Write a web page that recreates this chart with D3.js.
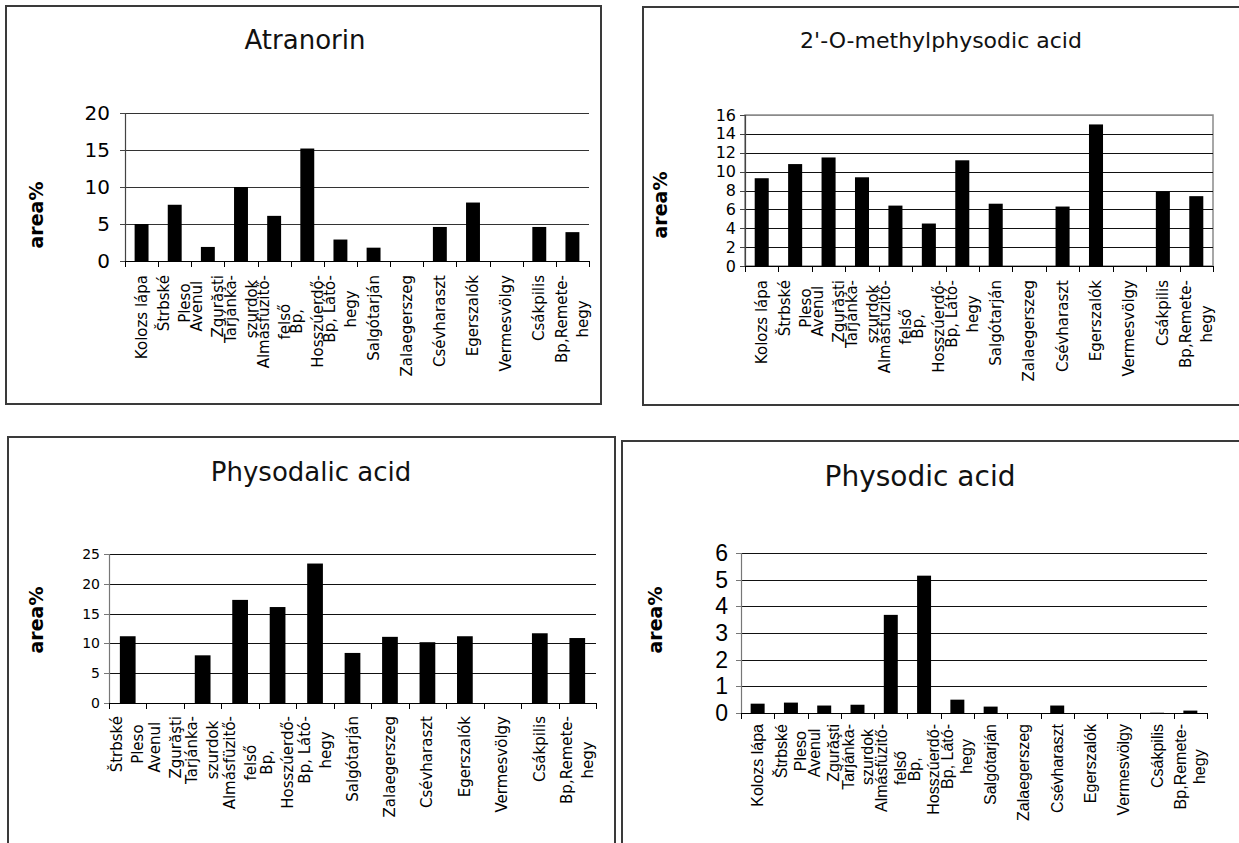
<!DOCTYPE html>
<html>
<head>
<meta charset="utf-8">
<script src="https://cdn.jsdelivr.net/npm/d3@7"></script>
<style>
  html, body { margin: 0; padding: 0; background: #fff; }
  svg { display: block; }
</style>
</head>
<body>
<svg id="chart" width="1239" height="843"></svg>
<script>
// Sampling sites (line breaks follow the wrapped axis labels)
const sites = ["Kolozs lápa", "Štrbské\nPleso", "Avenul\nZgurăşti", "Tarjánka-\nszurdok",
  "Almásfüzitő-\nfelső", "Bp,\nHosszúerdő-", "Bp, Látó-\nhegy", "Salgótarján",
  "Zalaegerszeg", "Csévharaszt", "Egerszalók", "Vermesvölgy", "Csákpilis", "Bp,Remete-\nhegy"];
const sitesPhysodalic = ["Štrbské\nPleso", "Avenul\nZgurăşti", "Tarjánka-\nszurdok",
  "Almásfüzitő-\nfelső", "Bp,\nHosszúerdő-", "Bp, Látó-\nhegy", "Salgótarján",
  "Zalaegerszeg", "Csévharaszt", "Egerszalók", "Vermesvölgy", "Csákpilis", "Bp,Remete-\nhegy"];

// area% of each compound per site
const atranorin      = [5.0, 7.6, 1.9, 10.0, 6.1, 15.2, 2.9, 1.8, 0, 4.6, 7.9, 0, 4.6, 3.9];
const methylphysodic = [9.3, 10.8, 11.5, 9.4, 6.4, 4.5, 11.2, 6.6, 0, 6.3, 15.0, 0, 7.9, 7.4];
const physodalic     = [11.2, 0, 8.0, 17.3, 16.1, 23.4, 8.4, 11.1, 10.2, 11.2, 0, 11.7, 10.9];
const physodic       = [0.35, 0.39, 0.28, 0.31, 3.68, 5.15, 0.5, 0.24, 0, 0.28, 0, 0, 0.01, 0.09];

// y-axis tick values
const ticksAtranorin = [0, 5, 10, 15, 20];
const ticksMethyl = [0, 2, 4, 6, 8, 10, 12, 14, 16];
const ticksPhysodalic = [0, 5, 10, 15, 20, 25];
const ticksPhysodic = [0, 1, 2, 3, 4, 5, 6];

const titles = ["Atranorin", "2'-O-methylphysodic acid", "Physodalic acid", "Physodic acid"];
const yTitle = "area%";

const svg = d3.select("#chart");
svg.append("rect").attr("width", 1239).attr("height", 843).attr("fill", "#fff");

const DEJAVU = "'DejaVu Sans', Verdana, sans-serif";
const ARIAL = "'Liberation Sans', Arial, sans-serif";

function panel(o) {
  const g = svg.append("g");
  // outer frame
  g.append("rect")
    .attr("x", o.box[0]).attr("y", o.box[1]).attr("width", o.box[2]).attr("height", o.box[3])
    .attr("fill", "none").attr("stroke", "#3a3a3a").attr("stroke-width", 2);

  g.append("text")
    .attr("x", o.titleX).attr("y", o.titleY)
    .attr("text-anchor", "middle").attr("dominant-baseline", "central")
    .style("font-family", DEJAVU).style("font-size", o.titleSize + "px").attr("fill", "#111")
    .text(o.title);

  g.append("text")
    .attr("transform", `translate(${o.yTitleX},${o.yTitleY}) rotate(-90)`)
    .attr("text-anchor", "middle").attr("dominant-baseline", "central")
    .style("font-family", DEJAVU).style("font-size", "19px").style("font-weight", "bold")
    .attr("fill", "#000").text(yTitle);

  const x = d3.scaleBand().domain(o.cats).range([o.x0, o.x1]).paddingInner(0).paddingOuter(0);
  const y = d3.scaleLinear().domain([0, d3.max(o.ticks)]).range([o.y0, o.y1]);
  const bw = x.bandwidth();

  // plot frame (grey) where present
  if (o.frame) {
    g.append("rect").attr("x", o.x0).attr("y", y(d3.max(o.ticks)))
      .attr("width", o.x1 - o.x0).attr("height", o.y0 - y(d3.max(o.ticks)))
      .attr("fill", "none").attr("stroke", "#8a8a8a").attr("stroke-width", 1.5);
  }

  // gridlines
  g.selectAll(".grid").data(o.ticks.filter(t => t > 0)).enter().append("line")
    .attr("x1", o.x0).attr("x2", o.x1)
    .attr("y1", d => Math.round(y(d)) + 0.5).attr("y2", d => Math.round(y(d)) + 0.5)
    .attr("stroke", (d) => (o.frame && d === d3.max(o.ticks)) ? "#8a8a8a" : o.gridColor)
    .attr("stroke-width", 1);

  // bars
  g.selectAll(".bar").data(o.values).enter().append("rect")
    .attr("x", (d, i) => x(o.cats[i]) + bw * 0.29)
    .attr("width", bw * 0.42)
    .attr("y", d => y(d))
    .attr("height", d => o.y0 - y(d))
    .attr("fill", "#000");

  // y axis line and ticks
  g.append("line").attr("x1", o.x0 + 0.5).attr("x2", o.x0 + 0.5)
    .attr("y1", y(d3.max(o.ticks))).attr("y2", o.y0)
    .attr("stroke", o.axisColor).attr("stroke-width", 1.2);
  g.selectAll(".ytick").data(o.ticks).enter().append("line")
    .attr("x1", o.x0 - 5).attr("x2", o.x0)
    .attr("y1", d => Math.round(y(d)) + 0.5).attr("y2", d => Math.round(y(d)) + 0.5)
    .attr("stroke", o.axisColor);
  g.selectAll(".ylab").data(o.ticks).enter().append("text")
    .attr("x", o.x0 - o.tickGap).attr("y", d => y(d))
    .attr("text-anchor", "end").attr("dominant-baseline", "central")
    .style("font-family", o.tickFont).style("font-size", o.tickSize + "px")
    .attr("fill", "#000").text(d => d);

  // x axis baseline and category ticks
  g.append("line").attr("x1", o.x0).attr("x2", o.x1)
    .attr("y1", o.y0 + 0.5).attr("y2", o.y0 + 0.5).attr("stroke", "#000").attr("stroke-width", 1.2);
  const edges = o.cats.map(c => x(c)).concat([o.x1]);
  g.selectAll(".xtick").data(edges).enter().append("line")
    .attr("x1", d => Math.round(d) + 0.5).attr("x2", d => Math.round(d) + 0.5)
    .attr("y1", o.y0).attr("y2", o.y0 + 6).attr("stroke", "#000");

  // rotated, wrapped category labels
  o.cats.forEach(c => {
    const lines = c.split("\n");
    const t = g.append("text")
      .attr("transform", `translate(${x(c) + bw / 2},${o.y0 + o.labelOffset}) rotate(-90)`)
      .style("font-family", o.labelFont).style("font-size", o.labelSize + "px")
      .attr("fill", "#000");
    const spans = lines.map((ln, i) => t.append("tspan")
      .attr("y", (i - (lines.length - 1) / 2) * o.lineGap)
      .attr("dominant-baseline", "central")
      .attr("text-anchor", "middle")
      .text(ln));
    const maxLen = d3.max(spans, s => s.node().getComputedTextLength());
    spans.forEach(s => s.attr("x", -maxLen / 2));
  });
}

panel({
  box: [6, 6, 595, 398], title: titles[0], titleX: 305, titleY: 40, titleSize: 26,
  yTitleX: 36, yTitleY: 215,
  cats: sites, values: atranorin, ticks: ticksAtranorin,
  x0: 125, x1: 589, y0: 261, y1: 113,
  tickFont: DEJAVU, tickSize: 20, tickGap: 15,
  labelFont: DEJAVU, labelSize: 15, lineGap: 21, labelOffset: 14,
  gridColor: "#333", axisColor: "#444", frame: false
});

panel({
  box: [643, 7, 700, 398], title: titles[1], titleX: 941, titleY: 40, titleSize: 22,
  yTitleX: 660, yTitleY: 205,
  cats: sites, values: methylphysodic, ticks: ticksMethyl,
  x0: 745, x1: 1213, y0: 266, y1: 115,
  tickFont: DEJAVU, tickSize: 16, tickGap: 9,
  labelFont: DEJAVU, labelSize: 15, lineGap: 21, labelOffset: 14,
  gridColor: "#111", axisColor: "#444", frame: true
});

panel({
  box: [8, 437, 607, 500], title: titles[2], titleX: 311, titleY: 472, titleSize: 26,
  yTitleX: 36, yTitleY: 620,
  cats: sitesPhysodalic, values: physodalic, ticks: ticksPhysodalic,
  x0: 109, x1: 596, y0: 703, y1: 554,
  tickFont: DEJAVU, tickSize: 14, tickGap: 9,
  labelFont: DEJAVU, labelSize: 15, lineGap: 21, labelOffset: 13,
  gridColor: "#111", axisColor: "#777", frame: false
});

panel({
  box: [622, 441, 700, 500], title: titles[3], titleX: 920, titleY: 476, titleSize: 28,
  yTitleX: 655, yTitleY: 620,
  cats: sites, values: physodic, ticks: ticksPhysodic,
  x0: 741, x1: 1207, y0: 713, y1: 553,
  tickFont: ARIAL, tickSize: 23, tickGap: 13,
  labelFont: ARIAL, labelSize: 16, lineGap: 19, labelOffset: 11,
  gridColor: "#111", axisColor: "#777", frame: false
});
</script>
</body>
</html>
